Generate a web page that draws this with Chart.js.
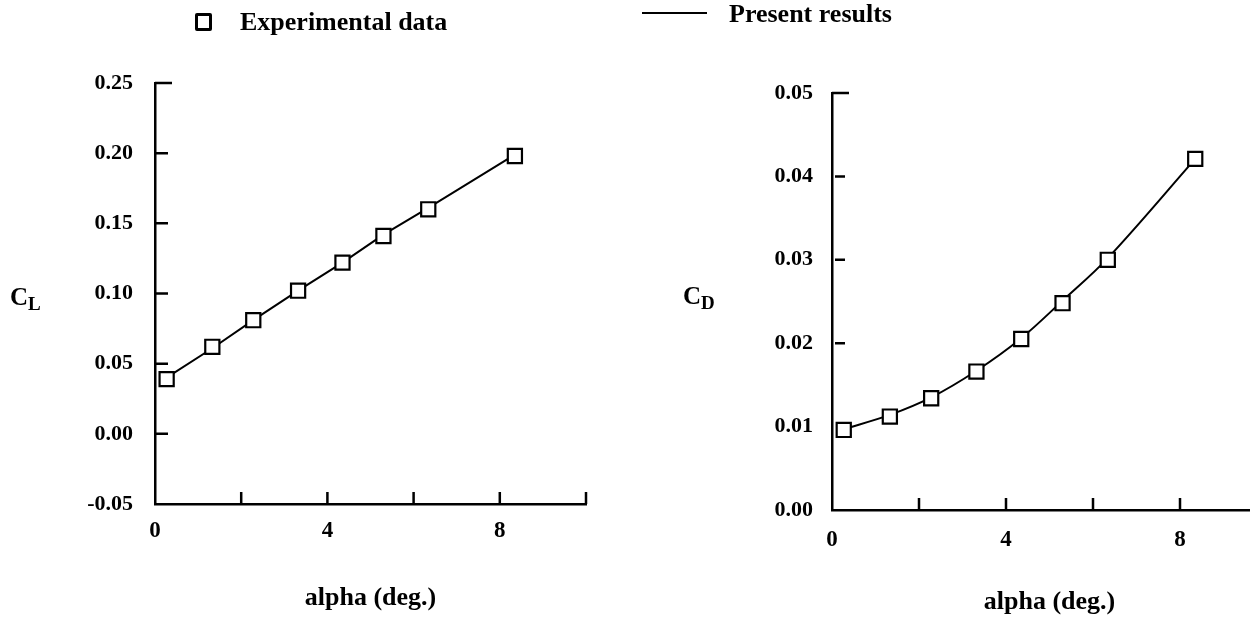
<!DOCTYPE html>
<html>
<head>
<meta charset="utf-8">
<title>CL and CD vs alpha</title>
<script src="https://cdn.jsdelivr.net/npm/chart.js@4.4.1/dist/chart.umd.min.js"></script>
<style>
    html, body {
        margin: 0;
        padding: 0;
        background: #fff;
        width: 1250px;
        height: 619px;
        overflow: hidden;
    }
    body {
        position: relative;
        font-family: "Liberation Serif", "DejaVu Serif", serif;
        font-weight: bold;
        color: #000;
    }
    canvas { position: absolute; top: 0; }
    #clChart { left: 0; }
    #cdChart { left: 650px; }
    .txt {
        position: absolute;
        white-space: nowrap;
        line-height: 26px;
        font-size: 26px;
        z-index: 2;
    }
    .box {
        position: absolute;
        left: 195px;
        top: 13px;
        width: 11px;
        height: 12px;
        border: 3px solid #000;
        border-radius: 2px;
    }
    .dash {
        position: absolute;
        left: 642px;
        top: 12px;
        width: 65px;
        height: 2px;
        background: #000;
    }
    .coef { font-size: 25px; line-height: 25px; }
    .coef sub { font-size: 19px; line-height: 0; vertical-align: -5px; }
</style>
</head>
<body>
<canvas id="clChart" width="600" height="619"></canvas>
<canvas id="cdChart" width="650" height="619"></canvas>

<!-- legend and axis symbols -->
<div class="box"></div>
<div class="txt" style="left:240px; top:9px;">Experimental data</div>
<div class="dash"></div>
<div class="txt" style="left:729px; top:1px;">Present results</div>
<div class="txt coef" style="left:10px; top:284px;">C<sub>L</sub></div>
<div class="txt coef" style="left:683px; top:283px;">C<sub>D</sub></div>

<script>
document.addEventListener('DOMContentLoaded', () => {
    // --- data ---
    const alpha = [0.27, 1.33, 2.28, 3.32, 4.35, 5.30, 6.34, 8.35];
    const clExperimental = [0.039, 0.062, 0.081, 0.102, 0.122, 0.141, 0.160, 0.198];
    const clPresent = [0.040, 0.061, 0.081, 0.102, 0.122, 0.142, 0.161, 0.199];
    const cdExperimental = [0.0096, 0.0112, 0.0134, 0.0166, 0.0205, 0.0248, 0.0300, 0.0421];
    const cdPresent = [0.0097, 0.0114, 0.0135, 0.0167, 0.0206, 0.0251, 0.0302, 0.0421];

    // --- axis ticks ---
    const alphaTicks = [2, 4, 6, 8, 10];      // short marks on the x axis
    const alphaLabels = [0, 4, 8];            // only these carry a number
    const clTicks = [0.25, 0.20, 0.15, 0.10, 0.05, 0.00];
    const cdTicks = [0.05, 0.04, 0.03, 0.02];

    const SERIF = '"Liberation Serif", "DejaVu Serif", serif';
    const BLACK = '#000';

    // inward tick marks, as in the original figure
    const innerTicks = {
        id: 'innerTicks',
        afterDraw(chart, args, opts) {
            const { ctx, chartArea, scales: { x, y } } = chart;
            ctx.save();
            ctx.strokeStyle = BLACK;
            ctx.lineWidth = 2.5;
            ctx.beginPath();
            opts.xMarks.forEach(v => {
                const px = x.getPixelForValue(v);
                ctx.moveTo(px, chartArea.bottom);
                ctx.lineTo(px, chartArea.bottom - opts.xLength);
            });
            opts.yMarks.forEach((v, i) => {
                const py = y.getPixelForValue(v);
                const len = i === 0 ? opts.yLongLength : opts.yLength;
                const gap = i === 0 ? 0 : opts.yGap;
                ctx.moveTo(chartArea.left + gap, py);
                ctx.lineTo(chartArea.left + len, py);
            });
            ctx.stroke();
            ctx.restore();
        }
    };

    const points = (xs, ys) => xs.map((x, i) => ({ x, y: ys[i] }));

    // two decimals, and no "-0.00" from float noise
    const fmt2 = v => (Math.abs(v) < 1e-9 ? 0 : v).toFixed(2);

    function buildChart(canvasId, cfg) {
        const ctx = document.getElementById(canvasId).getContext('2d');
        return new Chart(ctx, {
            type: 'scatter',
            data: {
                datasets: [{
                    label: 'Experimental data',
                    data: points(alpha, cfg.experimental),
                    showLine: false,
                    pointStyle: 'rect',
                    pointRadius: 10,
                    pointHoverRadius: 10,
                    borderWidth: 2.2,
                    borderColor: BLACK,
                    backgroundColor: '#fff'
                }, {
                    label: 'Present results',
                    data: points(alpha, cfg.present),
                    showLine: true,
                    pointRadius: 0,
                    borderWidth: 2,
                    borderColor: BLACK,
                    tension: cfg.tension
                }]
            },
            options: {
                responsive: false,
                animation: false,
                events: [],
                layout: { padding: cfg.padding },
                plugins: {
                    legend: { display: false },
                    tooltip: { enabled: false },
                    innerTicks: {
                        xMarks: alphaTicks,
                        xLength: 12,
                        yMarks: cfg.yMarks,
                        yLength: 13,
                        yLongLength: 17,
                        yGap: cfg.yGap
                    }
                },
                scales: {
                    x: {
                        type: 'linear',
                        min: 0,
                        max: 10,
                        afterFit: s => { s.height = cfg.xAxisHeight; },
                        grid: { drawOnChartArea: false, drawTicks: false },
                        border: { color: BLACK, width: 2.5 },
                        ticks: {
                            stepSize: 2,
                            autoSkip: false,
                            maxRotation: 0,
                            padding: cfg.xPad,
                            color: BLACK,
                            font: { family: SERIF, size: 23, weight: 'bold' },
                            callback: v => alphaLabels.includes(v) ? String(v) : ''
                        },
                        title: {
                            display: true,
                            text: 'alpha (deg.)',
                            color: BLACK,
                            font: { family: SERIF, size: 26, weight: 'bold' },
                            padding: { top: 0, bottom: cfg.titlePad }
                        }
                    },
                    y: {
                        min: cfg.yMin,
                        max: cfg.yMax,
                        afterFit: s => { s.width = cfg.yAxisWidth; },
                        grid: { drawOnChartArea: false, drawTicks: false },
                        border: { color: BLACK, width: 2.5 },
                        ticks: {
                            stepSize: cfg.yStep,
                            padding: cfg.yPad,
                            color: BLACK,
                            font: { family: SERIF, size: 22, weight: 'bold' },
                            callback: fmt2
                        }
                    }
                }
            },
            plugins: [innerTicks]
        });
    }

    // --- left plot: lift coefficient ---
    buildChart('clChart', {
        experimental: clExperimental,
        present: clPresent,
        tension: 0,
        yMin: -0.05,
        yMax: 0.25,
        yStep: 0.05,
        yMarks: clTicks,
        yGap: 0,
        padding: { top: 83, right: 14, left: 0, bottom: 0 },
        yAxisWidth: 155,
        xAxisHeight: 115,
        xPad: 13,
        yPad: 22,
        titlePad: 5
    });

    // --- right plot: drag coefficient (axis runs past the page edge) ---
    buildChart('cdChart', {
        experimental: cdExperimental,
        present: cdPresent,
        tension: 0.35,
        yMin: 0,
        yMax: 0.05,
        yStep: 0.01,
        yMarks: cdTicks,
        yGap: 3,
        padding: { top: 93, right: 33, left: 0, bottom: 0 },
        yAxisWidth: 182,
        xAxisHeight: 109,
        xPad: 16,
        yPad: 19,
        titlePad: 1
    });
});
</script>
</body>
</html>
